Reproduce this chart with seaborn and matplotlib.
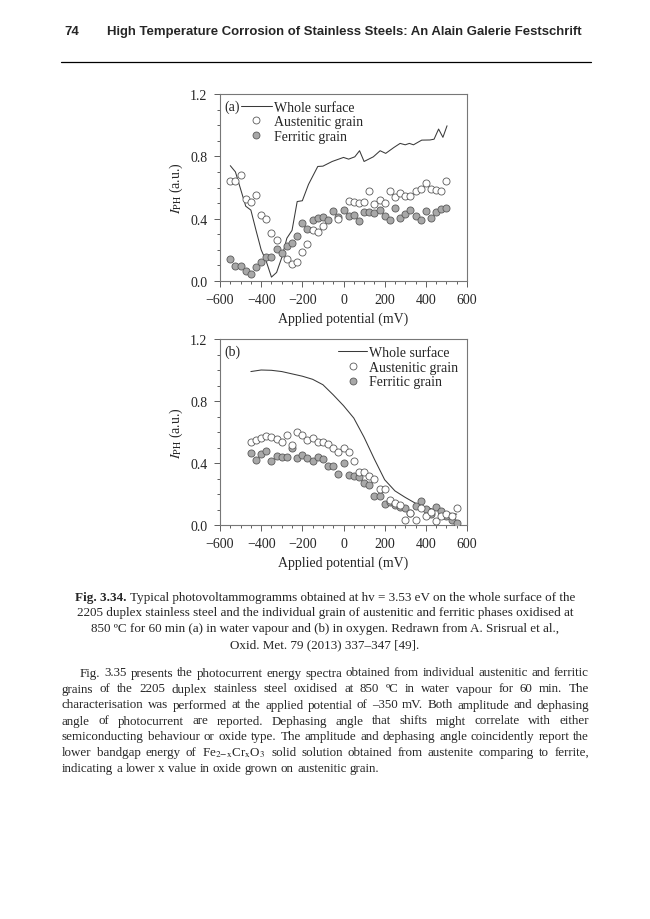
import matplotlib
matplotlib.use("Agg")
import matplotlib.pyplot as plt
import seaborn as sns
from matplotlib.lines import Line2D
from matplotlib.ticker import MultipleLocator, FixedLocator

# ---- panel (a): oxidised in water vapour ----
a_line_x = [-550, -525, -475, -450, -425, -400, -375, -350, -325, -300, -275, -250,
            -225, -200, -170, -125, -100, -55, 0, 25, 55, 78, 100, 145, 178, 205,
            245, 275, 300, 320, 340, 380, 420, 440, 462, 483, 503]
a_line_y = [0.74, 0.70, 0.48, 0.455, 0.325, 0.20, 0.125, 0.025, 0.055, 0.15, 0.275, 0.325,
            0.51, 0.515, 0.62, 0.735, 0.737, 0.767, 0.793, 0.782, 0.797, 0.836, 0.767, 0.797,
            0.836, 0.819, 0.857, 0.883, 0.874, 0.883, 0.874, 0.904, 0.905, 0.91, 0.975,
            0.922, 0.996]

a_aus_x = [-550, -525, -500, -475, -450, -425, -400, -375, -350, -325, -275, -250, -225,
           -200, -175, -150, -125, -100, -25, 25, 50, 75, 100, 125, 150, 175, 200, 225,
           250, 275, 300, 325, 350, 375, 400, 425, 450, 475, 500]
a_aus_y = [0.643, 0.643, 0.681, 0.525, 0.51, 0.553, 0.424, 0.399, 0.306, 0.263, 0.141,
           0.109, 0.124, 0.188, 0.237, 0.327, 0.313, 0.352, 0.398, 0.512, 0.508, 0.501,
           0.508, 0.58, 0.497, 0.52, 0.503, 0.578, 0.537, 0.565, 0.543, 0.543, 0.575,
           0.59, 0.627, 0.59, 0.584, 0.575, 0.644]

a_fer_x = [-550, -525, -500, -475, -450, -425, -400, -375, -350, -325, -300, -275, -250,
           -225, -200, -175, -150, -125, -100, -75, -50, -25, 0, 25, 50, 75, 100, 125,
           150, 175, 200, 225, 250, 275, 300, 325, 350, 375, 400, 425, 450, 475, 500]
a_fer_y = [0.139, 0.096, 0.096, 0.064, 0.047, 0.09, 0.122, 0.154, 0.154, 0.204, 0.182,
           0.225, 0.242, 0.289, 0.373, 0.336, 0.389, 0.405, 0.411, 0.389, 0.447, 0.411,
           0.454, 0.419, 0.421, 0.383, 0.443, 0.443, 0.439, 0.454, 0.415, 0.393, 0.468,
           0.402, 0.43, 0.458, 0.415, 0.393, 0.451, 0.402, 0.445, 0.462, 0.466]

# ---- panel (b): oxidised in oxygen ----
b_line_x = [-450, -400, -350, -300, -250, -200, -150, -100, -50, 0, 50, 100, 150, 200,
            250, 300, 350, 400, 450, 500, 550]
b_line_y = [0.99, 1.0, 0.998, 0.99, 0.975, 0.96, 0.94, 0.905, 0.84, 0.77, 0.69, 0.566,
            0.425, 0.292, 0.22, 0.178, 0.14, 0.115, 0.095, 0.08, 0.07]

b_pts_x = [-450, -425, -400, -375, -350, -325, -300, -275, -250, -225, -200, -175, -150,
           -125, -100, -75, -50, -25, 0, 25, 50, 75, 100, 125, 150, 175, 200, 225, 250,
           275, 300, 325, 350, 375, 400, 425, 450, 475, 500, 525, 550]
b_aus_y = [0.538, 0.551, 0.562, 0.577, 0.566, 0.555, 0.533, 0.581, 0.516, 0.598, 0.581,
           0.551, 0.559, 0.538, 0.538, 0.523, 0.495, 0.469, 0.495, 0.473, 0.415, 0.343,
           0.343, 0.313, 0.296, 0.235, 0.235, 0.16, 0.14, 0.13, 0.03, 0.075, 0.03, 0.112,
           0.058, 0.084, 0.026, 0.058, 0.069, 0.058, 0.112]
b_fer_y = [0.464, 0.417, 0.46, 0.479, 0.415, 0.443, 0.441, 0.441, 0.495, 0.434, 0.451,
           0.43, 0.41, 0.438, 0.425, 0.382, 0.382, 0.328, 0.397, 0.322, 0.313, 0.307,
           0.274, 0.257, 0.184, 0.184, 0.134, 0.149, 0.127, 0.119, 0.112, 0.076, 0.123,
           0.156, 0.101, 0.073, 0.119, 0.091, 0.058, 0.032, 0.011]

series_names = ["Whole surface", "Austenitic grain", "Ferritic grain"]
y_ticks = [0.0, 0.4, 0.8, 1.2]

sns.set_style("ticks")
plt.rcParams["font.family"] = ["Liberation Serif", "DejaVu Serif"]
plt.rcParams["mathtext.fontset"] = "stix"

W, H = 650, 920
fig = plt.figure(figsize=(W / 100, H / 100), dpi=100)
renderer = fig.canvas.get_renderer()

LINE_C = "#3a3a3a"
FER_C = "#a8a8a8"
EDGE_C = "#5a5a5a"
SPINE_C = "#777777"
FS = 10


def add_axes_px(left, top, right, bottom):
    return fig.add_axes([left / W, 1 - bottom / H, (right - left) / W, (bottom - top) / H])


def draw_panel(ax, lx, ly, aus_x, aus_y, fer_x, fer_y, tag, leg_left, leg_top, hlen):
    sns.lineplot(x=lx, y=ly, ax=ax, color=LINE_C, lw=0.75, estimator=None, sort=False, zorder=2)
    sns.scatterplot(x=fer_x, y=fer_y, ax=ax, s=26, color=FER_C, edgecolor=EDGE_C,
                    linewidth=0.6, zorder=3)
    sns.scatterplot(x=aus_x, y=aus_y, ax=ax, s=26, facecolor="white", edgecolor=EDGE_C,
                    linewidth=0.6, zorder=4)
    ax.set_xlim(-600, 600)
    ax.set_ylim(0, 1.2)
    ax.xaxis.set_major_locator(MultipleLocator(200))
    ax.xaxis.set_minor_locator(MultipleLocator(50))
    ax.yaxis.set_major_locator(FixedLocator(y_ticks))
    ax.yaxis.set_minor_locator(MultipleLocator(0.1))
    ax.set_yticklabels([f"{v:.1f}" for v in y_ticks])
    ax.tick_params(which="both", direction="out", width=0.6, color="#444444",
                   labelsize=FS, top=False, right=False)
    ax.tick_params(which="major", length=4, pad=5)
    ax.tick_params(which="minor", length=2.2)
    for sp in ax.spines.values():
        sp.set_color(SPINE_C)
        sp.set_linewidth(0.8)
    ax.set_xlabel("Applied potential (mV)", fontsize=FS)
    ax.set_ylabel(r"$I_{\mathrm{PH}}$ (a.u.)", fontsize=FS)
    ax.xaxis.set_label_coords(0.5, -0.20)
    ax.xaxis.label.set_va("center")
    ax.yaxis.set_label_coords(-0.178, 0.5)
    ax.yaxis.label.set_va("center")
    ax.text(0.016, 0.932, tag, transform=ax.transAxes, fontsize=FS, va="center", ha="left")
    handles = [
        Line2D([], [], color=LINE_C, lw=0.75),
        Line2D([], [], ls="none", marker="o", ms=5, mfc="white", mec=EDGE_C, mew=0.6),
        Line2D([], [], ls="none", marker="o", ms=5, mfc=FER_C, mec=EDGE_C, mew=0.6),
    ]
    ax.legend(handles, series_names, loc="upper left", bbox_to_anchor=(leg_left, leg_top),
              frameon=False, fontsize=FS, handlelength=hlen, handletextpad=0.15,
              labelspacing=0.12, borderpad=0, borderaxespad=0)


ax_a = add_axes_px(220, 95, 467, 282)
draw_panel(ax_a, a_line_x, a_line_y, a_aus_x, a_aus_y, a_fer_x, a_fer_y, "(a)", 0.085, 0.965, 2.2)
ax_b = add_axes_px(220, 340, 467, 526)
draw_panel(ax_b, b_line_x, b_line_y, b_pts_x, b_aus_y, b_pts_x, b_fer_y, "(b)", 0.478, 0.962, 2.1)


def raw_width(s, size, **kw):
    t = fig.text(0, 0, s, fontsize=size, **kw)
    w = t.get_window_extent(renderer).width
    t.remove()
    return w


def adv_width(s, size, **kw):
    # advance width: measured between two delimiters so side bearings are counted
    return raw_width("H" + s + "H", size, **kw) - raw_width("HH", size, **kw)


# ---- running header ----
sans = dict(family=["Liberation Sans", "DejaVu Sans"], weight="bold")
title = "High Temperature Corrosion of Stainless Steels: An Alain Galerie Festschrift"
head_fs = 10 * 478 / raw_width(title, 10, **sans)
fig.text(64 / W, 1 - 32 / H, "74", fontsize=head_fs, va="center", ha="left", **sans)
fig.text(107 / W, 1 - 32 / H, title, fontsize=head_fs, va="center", ha="left", **sans)
fig.add_artist(Line2D([61 / W, 591 / W], [1 - 63 / H, 1 - 63 / H], color="black", lw=0.9))

# ---- caption ----
cap_lines = [
    [("Fig. 3.34.", "bold"), ("Typical photovoltammogramms obtained at hv = 3.53 eV on the whole surface of the", "normal")],
    [("2205 duplex stainless steel and the individual grain of austenitic and ferritic phases oxidised at", "normal")],
    [("850 \u00baC for 60 min (a) in water vapour and (b) in oxygen. Redrawn from A. Srisrual et al.,", "normal")],
    [("Oxid. Met. 79 (2013) 337\u2013347 [49].", "normal")],
]
cap_fs = 10 * 497 / raw_width(cap_lines[1][0][0], 10)
cap_space = adv_width(" ", cap_fs)
for i, segs in enumerate(cap_lines):
    y = 1 - (597.5 + 16 * i) / H
    widths = [adv_width(s, cap_fs, weight=wt) for s, wt in segs]
    total = sum(widths) + cap_space * (len(segs) - 1)
    x = 325 - total / 2
    for (s, wt), w in zip(segs, widths):
        fig.text(x / W, y, s, fontsize=cap_fs, weight=wt, va="center", ha="left")
        x += w + cap_space

# ---- body paragraph (justified) ----
para = [
    "Fig. 3.35 presents the photocurrent energy spectra obtained from individual austenitic and ferritic",
    "grains of the 2205 duplex stainless steel oxidised at 850 \u00baC in water vapour for 60 min. The",
    "characterisation was performed at the applied potential of \u2013350 mV. Both amplitude and dephasing",
    "angle of photocurrent are reported. Dephasing angle that shifts might correlate with either",
    "semiconducting behaviour or oxide type. The amplitude and dephasing angle coincidently report the",
    r"lower bandgap energy of Fe$_{\mathrm{2\!-\!x}}$Cr$_{\mathrm{x}}$O$_{\mathrm{3}}$ solid solution obtained from austenite comparing to ferrite,",
    "indicating a lower x value in oxide grown on austenitic grain.",
]
body_fs = 10 * 505 / raw_width(para[0], 10)
body_space = adv_width(" ", body_fs)
for i, line in enumerate(para):
    y = 1 - (673.5 + 16 * i) / H
    x0 = 80 if i == 0 else 62
    words = line.split(" ")
    widths = [adv_width(w, body_fs) for w in words]
    if i == len(para) - 1:
        gap = body_space
    else:
        gap = (589 - x0 - sum(widths)) / (len(words) - 1)
    x = x0
    for w, wd in zip(words, widths):
        fig.text(x / W, y, w, fontsize=body_fs, va="center", ha="left")
        x += wd + gap

fig.savefig("out.png", dpi=100)
